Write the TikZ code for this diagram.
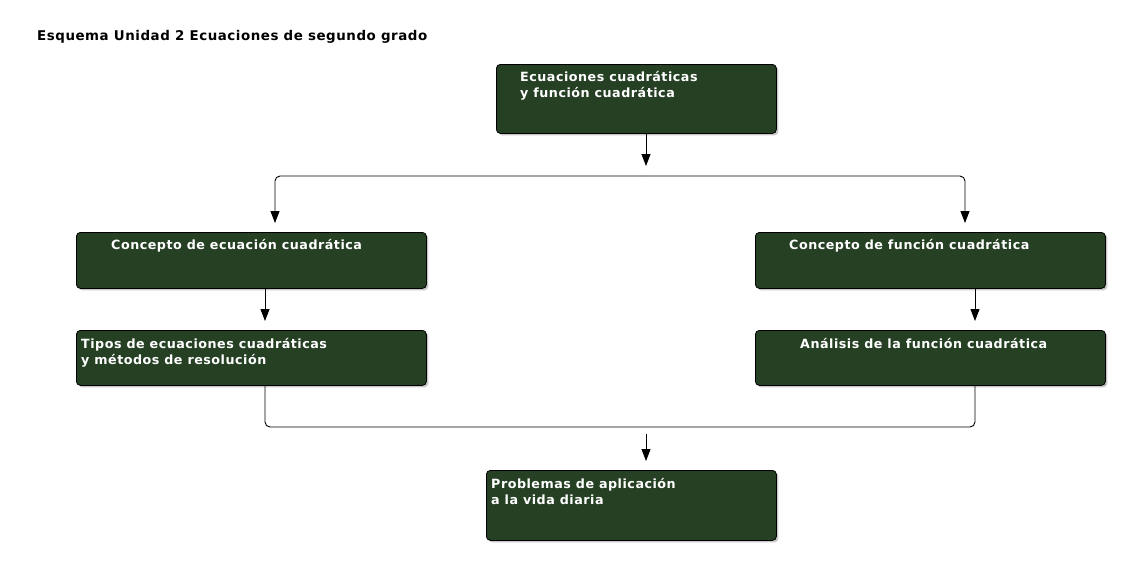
\documentclass[tikz,border=0pt]{standalone}
\usepackage{fontspec}
\setmainfont{DejaVu Sans}[LetterSpace=4]
\usetikzlibrary{arrows.meta,shadows}
\definecolor{boxgreen}{RGB}{37,64,35}
\tikzset{
  box/.style={draw=black, line width=0.8pt, fill=boxgreen, rounded corners=4pt,
    anchor=north west, inner sep=0pt,
    drop shadow={shadow xshift=2pt, shadow yshift=-2pt, fill=black!30, opacity=0.7}},
  boxtext/.style={text=white, font=\bfseries\fontsize{12.7}{16}\selectfont, align=left,
    anchor=base west, inner sep=0pt},
  conn/.style={draw=black, line width=0.9pt, rounded corners=5pt},
  arr/.style={conn, -{Triangle[width=9pt,length=12pt]}},
}
\begin{document}
\begin{tikzpicture}[x=1pt,y=-1pt]
\useasboundingbox[fill=white] (0,0) rectangle (1130,574);
\node[anchor=base west, inner sep=0pt, font=\bfseries\fontsize{13.4}{16}\selectfont] (title) at (37,40) {Esquema Unidad 2 Ecuaciones de segundo grado};

\node[box, minimum width=280, minimum height=69] (top) at (496,64) {};
\node[boxtext] (toptext) at (520,97) {Ecuaciones cuadráticas\\y función cuadrática};

\node[box, minimum width=350, minimum height=56] (l1) at (76,232) {};
\node[boxtext] (l1text) at (111,249) {Concepto de ecuación cuadrática};

\node[box, minimum width=350, minimum height=56] (r1) at (755,232) {};
\node[boxtext] (r1text) at (789,249) {Concepto de función cuadrática};

\node[box, minimum width=350, minimum height=55] (l2) at (76,330) {};
\node[boxtext] (l2text) at (81,364) {Tipos de ecuaciones cuadráticas\\y métodos de resolución};

\node[box, minimum width=350, minimum height=55] (r2) at (755,330) {};
\node[boxtext] (r2text) at (800,348) {Análisis de la función cuadrática};

\node[box, minimum width=290, minimum height=70] (bot) at (486,470) {};
\node[boxtext] (bottext) at (491,504) {Problemas de aplicación\\a la vida diaria};

\coordinate (ta) at (646,166);
\coordinate (ba) at (646,434);
\coordinate (bb) at (646,461);

\draw[arr] (top.south -| ta) -- (ta);
\draw[arr] (646,176) -| (275,223);
\draw[arr] (646,176) -| (965,223);
\draw[arr] (l1.south -| 265,0) -- (265,321);
\draw[arr] (r1.south -| 975,0) -- (975,321);
\draw[conn] (l2.south -| 265,0) |- (646,427) -| (r2.south -| 975,0);
\draw[arr] (ba) -- (bb);
\end{tikzpicture}
\end{document}
